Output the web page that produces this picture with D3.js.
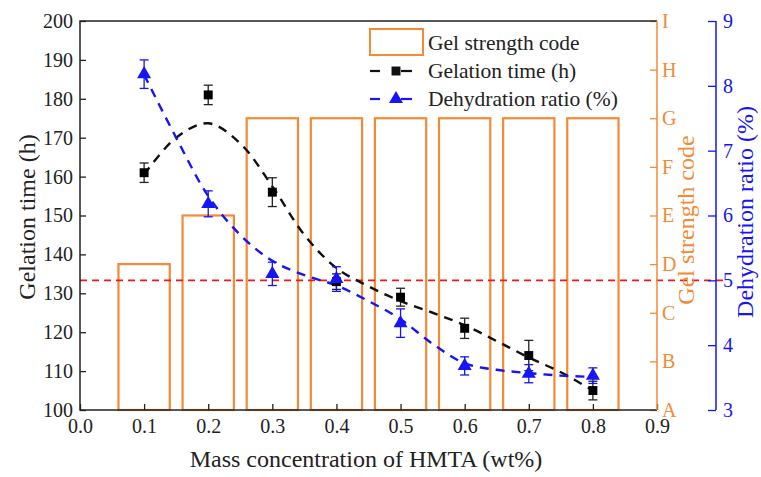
<!DOCTYPE html>
<html>
<head>
<meta charset="utf-8">
<script src="https://cdn.jsdelivr.net/npm/d3@7"></script>
<style>
  body { margin: 0; background: #fff; }
  text { font-family: 'Liberation Serif', 'Times New Roman', 'DejaVu Serif', serif; }
</style>
</head>
<body>
<svg id="chart" width="761" height="477" style="font-family: 'Liberation Serif', 'Times New Roman', serif;"></svg>
<script>
// HMTA concentration (wt%)
var concentrations = [0.1, 0.2, 0.3, 0.4, 0.5, 0.6, 0.7, 0.8];
// gel strength code, 0 = A ... 8 = I
var gelCodes = [3, 4, 6, 6, 6, 6, 6, 6];
var codeLetters = ["A", "B", "C", "D", "E", "F", "G", "H", "I"];
var gelationTime = [161, 181, 156, 133, 129, 121, 114, 105];
var gelationErr = [2.5, 2.5, 3.7, 2, 2.3, 2.6, 3.9, 2.4];
var dehydration = [8.18, 6.18, 5.1, 5.02, 4.34, 3.68, 3.56, 3.53];
var dehydrationErr = [0.22, 0.2, 0.18, 0.19, 0.22, 0.14, 0.14, 0.12];
// fitted trend lines
var fitX = [0.1, 0.15, 0.2, 0.25, 0.3, 0.35, 0.4, 0.45, 0.5, 0.55, 0.6, 0.65, 0.7, 0.75, 0.8];
var gelationFit = [160.5, 170, 173.7, 168.5, 157.5, 145, 136.5, 131.8, 128, 125, 121.8, 117.7, 113.5, 109.7, 105];
var dehydrationFit = [8.17, 7.2, 6.3, 5.7, 5.3, 5.08, 4.92, 4.68, 4.4, 4.02, 3.72, 3.62, 3.57, 3.53, 3.51];
var dehydrationLimit = 5;

var orange = "#f28a36", blue = "#1515f5";
var serif = "'Liberation Serif', 'Times New Roman', serif";
var plotL = 80, plotR = 657, plotT = 21, plotB = 410, blueX = 716;

var svg = d3.select("#chart");
var x = d3.scaleLinear().domain([0, 0.9]).range([plotL, plotR]);
var yTime = d3.scaleLinear().domain([100, 200]).range([plotB, plotT]);
var yCode = d3.scaleLinear().domain([0, 8]).range([plotB, plotT]);
var yDehy = d3.scaleLinear().domain([3, 9]).range([plotB, plotT]);

// gel strength bars
var barW = x(0.08) - x(0);
svg.append("g").selectAll("rect")
    .data(concentrations)
    .enter().append("rect")
    .attr("x", function (d) { return x(d) - barW / 2; })
    .attr("y", function (d, i) { return yCode(gelCodes[i]); })
    .attr("width", barW)
    .attr("height", function (d, i) { return plotB - yCode(gelCodes[i]); })
    .attr("fill", "none")
    .attr("stroke", orange)
    .attr("stroke-width", 2.2);

// 5% reference line
svg.append("line")
    .attr("x1", plotL).attr("x2", 724)
    .attr("y1", yDehy(dehydrationLimit)).attr("y2", yDehy(dehydrationLimit))
    .attr("stroke", "#f01818").attr("stroke-width", 1.6)
    .attr("stroke-dasharray", "7,5");

// fitted dashed lines
var timeLine = d3.line().curve(d3.curveCatmullRom)
    .x(function (d, i) { return x(fitX[i]); })
    .y(function (d) { return yTime(d); });
var dehyLine = d3.line().curve(d3.curveCatmullRom)
    .x(function (d, i) { return x(fitX[i]); })
    .y(function (d) { return yDehy(d); });

svg.append("path").attr("d", timeLine(gelationFit))
    .attr("fill", "none").attr("stroke", "#111").attr("stroke-width", 2.4)
    .attr("stroke-dasharray", "9,7");
svg.append("path").attr("d", dehyLine(dehydrationFit))
    .attr("fill", "none").attr("stroke", blue).attr("stroke-width", 2.4)
    .attr("stroke-dasharray", "9,7");

// error bars
function errorBars(vals, errs, scale, color) {
    var g = svg.append("g").attr("stroke", color).attr("stroke-width", 1.3);
    concentrations.forEach(function (c, i) {
        var cx = x(c), y1 = scale(vals[i] - errs[i]), y2 = scale(vals[i] + errs[i]);
        g.append("line").attr("x1", cx).attr("x2", cx).attr("y1", y1).attr("y2", y2);
        g.append("line").attr("x1", cx - 4.5).attr("x2", cx + 4.5).attr("y1", y1).attr("y2", y1);
        g.append("line").attr("x1", cx - 4.5).attr("x2", cx + 4.5).attr("y1", y2).attr("y2", y2);
    });
}
errorBars(gelationTime, gelationErr, yTime, "#222");
errorBars(dehydration, dehydrationErr, yDehy, blue);

var square = d3.symbol().type(d3.symbolSquare).size(80);
var triangle = d3.symbol().type(d3.symbolTriangle).size(85);

svg.append("g").selectAll("path")
    .data(gelationTime)
    .enter().append("path")
    .attr("d", square)
    .attr("transform", function (d, i) { return "translate(" + x(concentrations[i]) + "," + yTime(d) + ")"; })
    .attr("fill", "#000");

svg.append("g").selectAll("path")
    .data(dehydration)
    .enter().append("path")
    .attr("d", triangle)
    .attr("transform", function (d, i) { return "translate(" + x(concentrations[i]) + "," + yDehy(d) + ")"; })
    .attr("fill", blue);

// axes
var fontSize = 20;
function styleAxis(g, color) {
    g.attr("font-family", null);
    g.select(".domain").remove();
    g.selectAll("line").attr("stroke", color).attr("stroke-width", 1.3);
    g.selectAll("text").attr("fill", color).attr("font-size", fontSize)
        .style("font-family", serif);
}

var xAxis = svg.append("g").attr("transform", "translate(0," + plotB + ")")
    .call(d3.axisBottom(x).tickValues(d3.range(0, 10).map(function (d) { return d / 10; }))
        .tickFormat(d3.format(".1f")).tickSizeInner(-6).tickSizeOuter(0).tickPadding(9));
styleAxis(xAxis, "#222");

var yAxis = svg.append("g").attr("transform", "translate(" + plotL + ",0)")
    .call(d3.axisLeft(yTime).ticks(10).tickSizeInner(-6).tickSizeOuter(0).tickPadding(7));
styleAxis(yAxis, "#222");

var codeAxis = svg.append("g").attr("transform", "translate(" + plotR + ",0)")
    .call(d3.axisRight(yCode).ticks(8).tickFormat(function (d) { return codeLetters[d]; })
        .tickSizeInner(-7).tickSizeOuter(0).tickPadding(5));
styleAxis(codeAxis, orange);

var dehyAxis = svg.append("g").attr("transform", "translate(" + blueX + ",0)")
    .call(d3.axisRight(yDehy).ticks(6).tickSizeInner(-8).tickSizeOuter(0).tickPadding(7));
styleAxis(dehyAxis, blue);

// frame
svg.append("path")
    .attr("d", "M" + plotR + "," + plotT + "H" + plotL + "V" + plotB + "H" + plotR)
    .attr("fill", "none").attr("stroke", "#222").attr("stroke-width", 1.5);
svg.append("line").attr("x1", plotR).attr("x2", plotR).attr("y1", plotT).attr("y2", plotB)
    .attr("stroke", orange).attr("stroke-width", 1.5);
svg.append("line").attr("x1", blueX).attr("x2", blueX).attr("y1", plotT).attr("y2", plotB)
    .attr("stroke", blue).attr("stroke-width", 1.5);

// axis titles
function title(txt, transform, color) {
    svg.append("text").attr("transform", transform)
        .attr("text-anchor", "middle").attr("font-size", 24).attr("fill", color)
        .style("font-family", serif)
        .text(txt);
}
title("Mass concentration of HMTA (wt%)", "translate(366,467)", "#222");
title("Gelation time (h)", "translate(35,217) rotate(-90)", "#222");
title("Gel strength code", "translate(694,220) rotate(-90)", orange);
title("Dehydration ratio (%)", "translate(753,212) rotate(-90)", blue);

// legend
var legend = svg.append("g").attr("font-size", 21.5).attr("fill", "#222").style("font-family", serif);
legend.append("rect").attr("x", 370).attr("y", 29).attr("width", 53).attr("height", 26)
    .attr("fill", "none").attr("stroke", orange).attr("stroke-width", 2);
legend.append("text").attr("x", 428).attr("y", 50).style("font-family", serif).text("Gel strength code");

[[71, "#111", square, "Gelation time (h)"], [99, blue, triangle, "Dehydration ratio (%)"]].forEach(function (r) {
    legend.append("line").attr("x1", 370).attr("x2", 380).attr("y1", r[0]).attr("y2", r[0])
        .attr("stroke", r[1]).attr("stroke-width", 2.2);
    legend.append("line").attr("x1", 401).attr("x2", 412).attr("y1", r[0]).attr("y2", r[0])
        .attr("stroke", r[1]).attr("stroke-width", 2.2);
    legend.append("path").attr("d", r[2]).attr("transform", "translate(396," + r[0] + ")")
        .attr("fill", r[1]);
    legend.append("text").attr("x", 428).attr("y", r[0] + 7).style("font-family", serif).text(r[3]);
});
</script>
</body>
</html>
